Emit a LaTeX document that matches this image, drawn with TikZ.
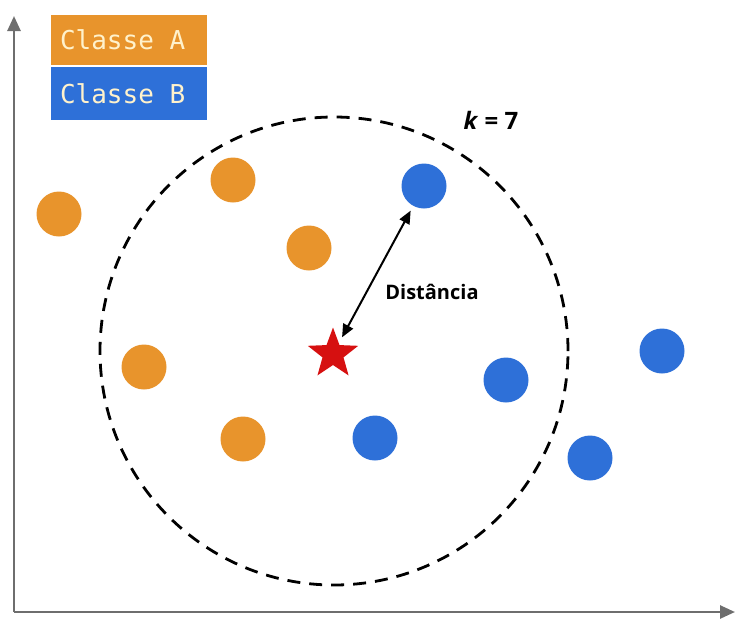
\documentclass[tikz,border=0pt]{standalone}
\usepackage{fontspec}
\setmainfont{Open Sans}
\newfontfamily\keyfont{DejaVu Sans Mono}
\usetikzlibrary{shapes.geometric,arrows.meta}
\definecolor{clsA}{RGB}{232,148,44}
\definecolor{clsB}{RGB}{46,112,216}
\definecolor{axisgray}{RGB}{110,110,110}
\definecolor{legendtext}{RGB}{255,242,204}
\definecolor{starred}{RGB}{214,16,16}
\tikzset{
  ptA/.style={circle,fill=clsA,minimum size=45,inner sep=0},
  ptB/.style={circle,fill=clsB,minimum size=45,inner sep=0},
  legendbox/.style={minimum width=156,minimum height=50,inner sep=0},
  legendlabel/.style={inner sep=0,anchor=west,text=legendtext,
    font=\keyfont\fontsize{26}{28}\selectfont},
  axisline/.style={draw=axisgray,line width=2.6,-{Triangle[length=15,width=13]}},
  distline/.style={line width=2,{Triangle[length=13,width=11]}-{Triangle[length=13,width=11]}},
}
\begin{document}
\begin{tikzpicture}[x=1pt,y=-1pt]
\useasboundingbox (0,0) rectangle (735,619);
% axes
\coordinate (origin) at (14,612);
\coordinate (yend) at (14,16);
\coordinate (xend) at (735,612);
\draw[axisline] (origin) -- (yend);
\draw[axisline] (origin) -- (xend);
% legend
\node[legendbox,fill=clsA] (legA) at (129,40) {};
\node[legendbox,fill=clsB,minimum height=53] (legB) at (129,93.5) {};
\node[legendlabel] (legAtext) at ([xshift=9]legA.west) {Classe A};
\node[legendlabel] (legBtext) at ([xshift=9]legB.west) {Classe B};
% neighbourhood of radius k
\node[circle,draw=black,line width=2.8,dash pattern=on 13 off 9,
      minimum size=468,inner sep=0] (hood) at (334,351) {};
\node[font=\bfseries\fontsize{24}{27}\selectfont] (klabel) at (491,120) {\textit{k} = 7};
% class A points
\node[ptA] (a1) at (59,214) {};
\node[ptA] (a2) at (233,180) {};
\node[ptA] (a3) at (309,248) {};
\node[ptA] (a4) at (144,367) {};
\node[ptA] (a5) at (243,439) {};
% class B points
\node[ptB] (b1) at (424,186) {};
\node[ptB] (b2) at (662,351) {};
\node[ptB] (b3) at (506,380) {};
\node[ptB] (b4) at (375,438) {};
\node[ptB] (b5) at (590,458) {};
% query point
\node[star,star points=5,star point ratio=2.4,fill=starred,minimum size=53,inner sep=0] (query) at (333,354) {};
% distance to nearest neighbour
\draw[distline,shorten <=19,shorten >=28] (query.center) -- (b1.center);
\node[font=\bfseries\fontsize{20}{23}\selectfont] (dlabel) at (432,292) {Distância};
\end{tikzpicture}
\end{document}
